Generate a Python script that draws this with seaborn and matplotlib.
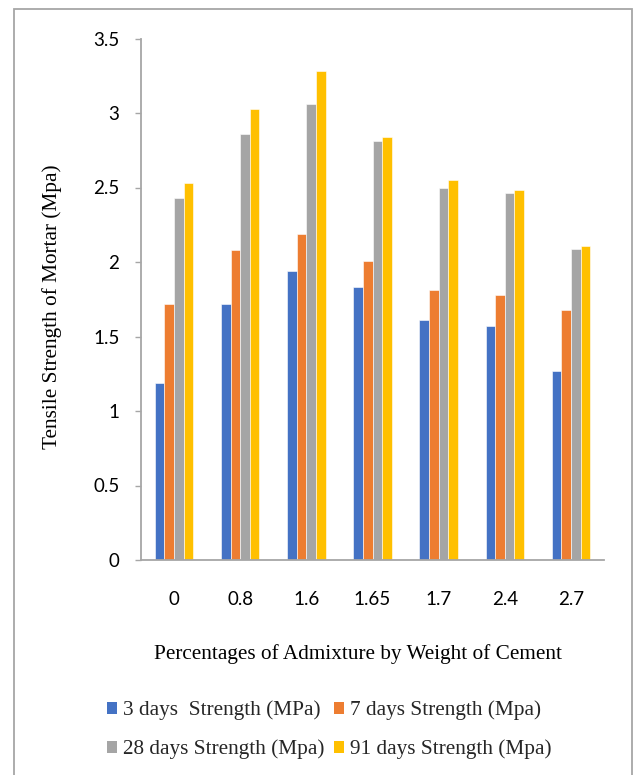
import matplotlib
matplotlib.use("Agg")
import matplotlib.pyplot as plt
import matplotlib.patches as mpatches
import seaborn as sns
import pandas as pd

# Admixture dosage (% by weight of cement)
categories = ["0", "0.8", "1.6", "1.65", "1.7", "2.4", "2.7"]

series_names = [
    "3 days  Strength (MPa)",
    "7 days Strength (Mpa)",
    "28 days Strength (Mpa)",
    "91 days Strength (Mpa)",
]

strength_3d = [1.19, 1.72, 1.94, 1.83, 1.61, 1.57, 1.27]
strength_7d = [1.72, 2.08, 2.19, 2.01, 1.81, 1.78, 1.68]
strength_28d = [2.43, 2.86, 3.06, 2.81, 2.50, 2.46, 2.09]
strength_91d = [2.53, 3.03, 3.28, 2.84, 2.55, 2.48, 2.11]

colors = ["#4472C4", "#ED7D31", "#A5A5A5", "#FFC000"]

y_ticks = [0, 0.5, 1, 1.5, 2, 2.5, 3, 3.5]
y_tick_labels = ["0", "0.5", "1", "1.5", "2", "2.5", "3", "3.5"]

# Long-form table for seaborn
rows = []
for name, vals in zip(series_names, [strength_3d, strength_7d, strength_28d, strength_91d]):
    for cat, v in zip(categories, vals):
        rows.append({"Admixture": cat, "Series": name, "Strength": v})
df = pd.DataFrame(rows)

sns.set_style("white")
plt.rcParams["font.family"] = ["Lato", "DejaVu Sans"]

fig = plt.figure(figsize=(6.34, 7.75), dpi=100)
ax = fig.add_axes([141 / 634, 1 - 560 / 775, 463 / 634, 521.5 / 775])

sns.barplot(
    data=df, x="Admixture", y="Strength", hue="Series",
    order=categories, hue_order=series_names, palette=colors,
    width=0.58, gap=0, dodge=True, ax=ax, legend=False,
    edgecolor="white", linewidth=0.4, saturation=1,
)

ax.set_ylim(0, 3.5)
ax.set_xlim(-0.5, len(categories) - 0.5)
ax.set_yticks(y_ticks)
ax.set_yticklabels(y_tick_labels)

axis_color = "#A6A6A6"
for side in ["top", "right"]:
    ax.spines[side].set_visible(False)
for side in ["left", "bottom"]:
    ax.spines[side].set_color(axis_color)
    ax.spines[side].set_linewidth(1.3)

ax.tick_params(axis="y", direction="out", length=4.5, width=1.0, color=axis_color,
               pad=11, labelsize=13.5, labelcolor="#000000")
ax.tick_params(axis="x", length=0, pad=22, labelsize=13.5, labelcolor="#000000")
ax.tick_params(left=True, bottom=False)

serif = ["Liberation Serif", "DejaVu Serif"]
ax.set_xlabel("Percentages of Admixture by Weight of Cement",
              fontsize=15.3, family=serif, color="#000000")
ax.set_ylabel("Tensile Strength of Mortar (Mpa)",
              fontsize=15.3, family=serif, color="#000000")
ax.xaxis.set_label_coords((357.5 - 141) / 463, -(644 - 560) / 521.5)
ax.yaxis.set_label_coords(-(141 - 62) / 463, (560 - 307) / 521.5)

# Legend rows: 3d / 7d on top, 28d / 91d below (legend fills column-wise)
legend_order = [0, 2, 1, 3]
handles = [mpatches.Patch(facecolor=colors[i], edgecolor="none", label=series_names[i])
           for i in legend_order]
leg = fig.legend(
    handles=handles, ncol=2, loc="center", bbox_to_anchor=(329 / 634, 1 - 730 / 775),
    frameon=False, prop={"family": serif, "size": 15.3},
    handlelength=0.5, handleheight=0.5, handletextpad=0.25,
    columnspacing=0.45, labelspacing=0.9,
)

# Chart-area border
fig.patches.append(mpatches.Rectangle(
    (14 / 634, -0.01), (632 - 14) / 634, 1 - 9 / 775 + 0.01,
    transform=fig.transFigure, fill=False, edgecolor="#A6A6A6", linewidth=1.3,
))

fig.savefig("out.png", dpi=100)
